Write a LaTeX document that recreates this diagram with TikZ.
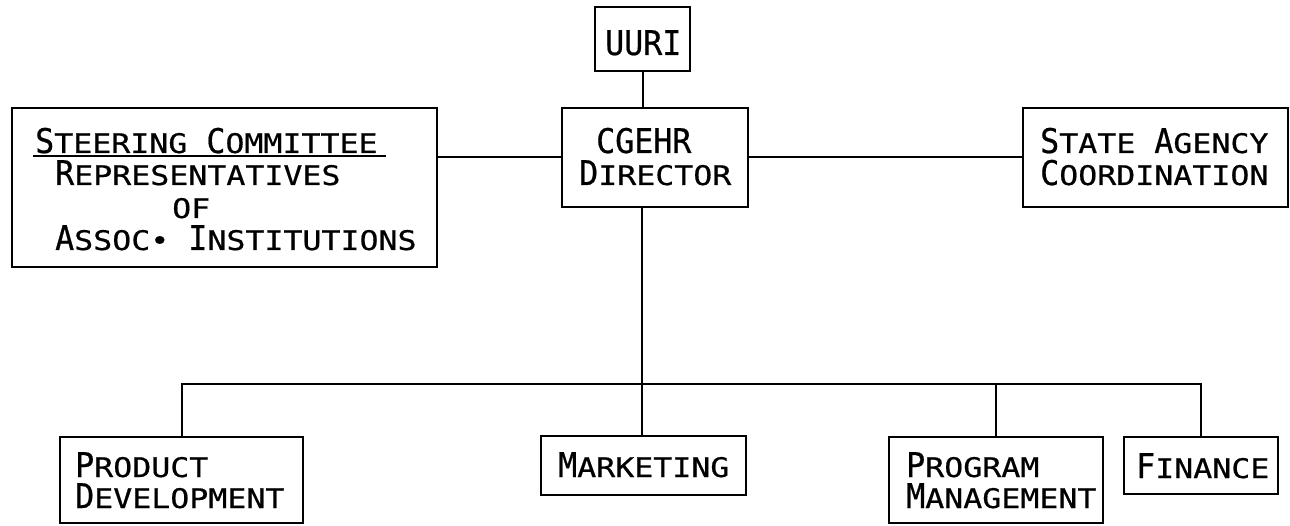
\documentclass[tikz,border=0pt]{standalone}
\usepackage{fontspec}
\newfontfamily\bigfam[FakeStretch=0.93,FakeBold=0.6]{DejaVu Sans Mono}
\newfontfamily\smfam[FakeStretch=1.17,FakeBold=0.6]{DejaVu Sans Mono}
\newcommand\Bg[1]{{\fontsize{34pt}{34pt}\bigfam #1}}
\newcommand\Sm[1]{{\fontsize{27pt}{34pt}\smfam #1}}
\tikzset{
  box/.style={draw, line width=2.2pt, inner sep=0pt},
  txt/.style={inner sep=0pt, anchor=base west},
  conn/.style={line width=2pt},
}
\begin{document}
\begin{tikzpicture}[x=1pt,y=-1pt]
\useasboundingbox (0,0) rectangle (1290,526);
% boxes
\node[box, minimum width=95pt, minimum height=64pt] (uuri) at (642.5,39) {};
\node[box, minimum width=186pt, minimum height=99pt] (dir) at (655,157.5) {};
\node[box, minimum width=425pt, minimum height=159pt] (steer) at (224.5,187.5) {};
\node[box, minimum width=265pt, minimum height=99pt] (state) at (1155.5,157.5) {};
\node[box, minimum width=243pt, minimum height=86pt] (prod) at (181.5,480) {};
\node[box, minimum width=205pt, minimum height=59pt] (mkt) at (643.5,465.5) {};
\node[box, minimum width=214pt, minimum height=86pt] (prog) at (996,480) {};
\node[box, minimum width=154pt, minimum height=57pt] (fin) at (1201,465.5) {};
% texts
\node[txt] (t-uuri) at (605,55) {\Bg{UURI}};
\node[txt] (t-dir1) at (596,153) {\Bg{CGEHR}};
\node[txt] (t-dir2) at (579,185) {\Bg{D}\Sm{IRECTOR}};
\node[txt] (t-st1) at (35,153) {\Bg{S}\Sm{TEERING }\Bg{C}\Sm{OMMITTEE}};
\node[txt] (t-st2) at (55,185) {\Bg{R}\Sm{EPRESENTATIVES}};
\node[txt] (t-st3) at (172,218) {\Sm{OF}};
\node[txt] (t-st4) at (55,250) {\Bg{A}\Sm{SSOC• }\Bg{I}\Sm{NSTITUTIONS}};
\draw[conn] ([xshift=-2pt,yshift=-3pt]t-st1.base west) -- ([xshift=8pt,yshift=-3pt]t-st1.base east);
\node[txt] (t-sa1) at (1040,153) {\Bg{S}\Sm{TATE }\Bg{A}\Sm{GENCY}};
\node[txt] (t-sa2) at (1040,185) {\Bg{C}\Sm{OORDINATION}};
\node[txt] (t-pd1) at (75,477) {\Bg{P}\Sm{RODUCT}};
\node[txt] (t-pd2) at (75,508) {\Bg{D}\Sm{EVELOPMENT}};
\node[txt] (t-mk) at (558,477) {\Bg{M}\Sm{ARKETING}};
\node[txt] (t-pm1) at (906,477) {\Bg{P}\Sm{ROGRAM}};
\node[txt] (t-pm2) at (906,508) {\Bg{M}\Sm{ANAGEMENT}};
\node[txt] (t-fi) at (1136,478) {\Bg{F}\Sm{INANCE}};
% connectors
\coordinate (bus) at (642,384);
\draw[conn] (uuri.south) -- (uuri.south |- dir.north);
\draw[conn] (steer.east |- dir.west) -- (dir.west);
\draw[conn] (dir.east) -- (state.west |- dir.east);
\draw[conn] (dir.south -| bus) -- (mkt.north -| bus);
\draw[conn] (prod.north) |- (bus) -| (fin.north);
\draw[conn] (prog.north) -- (prog.north |- bus);
\end{tikzpicture}
\end{document}
